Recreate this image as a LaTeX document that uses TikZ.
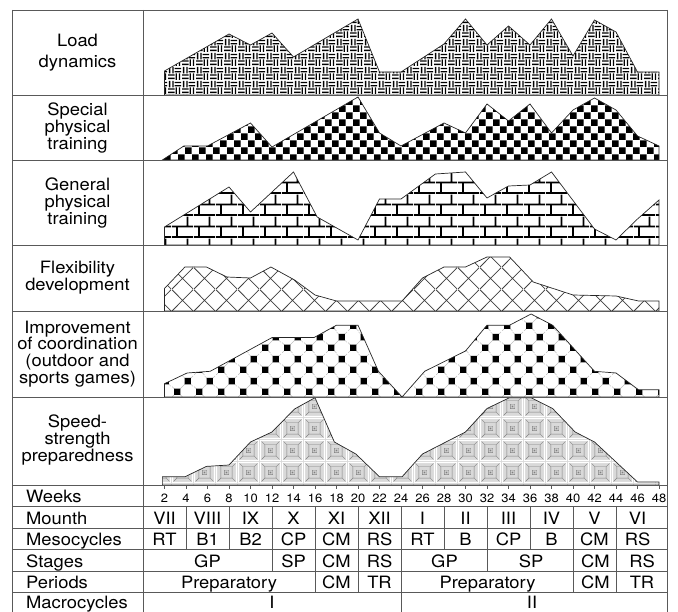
\documentclass[tikz,border=0pt]{standalone}
\usepackage{fontspec}
\setmainfont{TeX Gyre Heros}[FakeStretch=1.08]
\usetikzlibrary{patterns.meta}

\tikzdeclarepattern{
  name=weave,
  tile size={(14pt,14pt)},
  bounding box={(0pt,0pt) and (14pt,14pt)},
  code={
    \draw[line width=1.4pt]
      (0pt,1.75pt) -- (7pt,1.75pt) (0pt,5.25pt) -- (7pt,5.25pt)
      (8.75pt,0pt) -- (8.75pt,7pt) (12.25pt,0pt) -- (12.25pt,7pt)
      (1.75pt,7pt) -- (1.75pt,14pt) (5.25pt,7pt) -- (5.25pt,14pt)
      (7pt,8.75pt) -- (14pt,8.75pt) (7pt,12.25pt) -- (14pt,12.25pt);
  }
}
\tikzdeclarepattern{
  name=checker,
  tile size={(14.34pt,14.34pt)},
  bounding box={(0pt,0pt) and (14.34pt,14.34pt)},
  code={
    \fill (0.2pt,0.2pt) rectangle (6.97pt,6.97pt);
    \fill (7.37pt,7.37pt) rectangle (14.14pt,14.14pt);
  }
}
\tikzdeclarepattern{
  name=brickwall,
  tile size={(21.5pt,22pt)},
  bounding box={(0pt,0pt) and (21.5pt,22pt)},
  code={
    \draw[line width=1.8pt]
      (0pt,1pt) -- (21.5pt,1pt) (0pt,12pt) -- (21.5pt,12pt)
      (5pt,1pt) -- (5pt,12pt) (15.75pt,12pt) -- (15.75pt,22pt);
  }
}
\tikzdeclarepattern{
  name=diamonds,
  tile size={(21.5pt,21.5pt)},
  bounding box={(0pt,0pt) and (21.5pt,21.5pt)},
  code={
    \draw[line width=0.8pt]
      (0pt,0pt) -- (21.5pt,21.5pt) (0pt,21.5pt) -- (21.5pt,0pt);
  }
}
\tikzdeclarepattern{
  name=dotmesh,
  tile size={(21.5pt,21.5pt)},
  bounding box={(0pt,0pt) and (21.5pt,21.5pt)},
  code={
    \draw[line width=0.5pt]
      (0pt,0pt) -- (21.5pt,21.5pt) (0pt,10.75pt) -- (10.75pt,0pt)
      (10.75pt,21.5pt) -- (21.5pt,10.75pt);
  }
}
\tikzdeclarepattern{
  name=squaredots,
  tile size={(21.5pt,21.5pt)},
  bounding box={(0pt,0pt) and (21.5pt,21.5pt)},
  code={
    \fill (2.1pt,2.1pt) rectangle (8.65pt,8.65pt);
    \fill (12.85pt,12.85pt) rectangle (19.4pt,19.4pt);
  }
}
\tikzdeclarepattern{
  name=tilegap,
  tile size={(21.5pt,21.5pt)},
  bounding box={(0pt,0pt) and (21.5pt,21.5pt)},
  code={
    \draw[line width=1.2pt] (0.6pt,0.6pt) rectangle (20.9pt,20.9pt);
  }
}
\tikzdeclarepattern{
  name=pyramid,
  tile size={(21.5pt,21.5pt)},
  bounding box={(0pt,0pt) and (21.5pt,21.5pt)},
  code={
    \draw[line width=0.4pt] (5pt,5pt) rectangle (16.5pt,16.5pt)
      (8.5pt,8.5pt) rectangle (13pt,13pt)
      (1.6pt,1.6pt) -- (5pt,5pt) (19.9pt,1.6pt) -- (16.5pt,5pt)
      (1.6pt,19.9pt) -- (5pt,16.5pt) (19.9pt,19.9pt) -- (16.5pt,16.5pt);
    \fill (9.9pt,9.9pt) rectangle (11.6pt,11.6pt);
  }
}

\begin{document}
\begin{tikzpicture}[x=1pt, y=-1pt,
frame/.style={draw=black!65, line width=0.8pt},
area/.style={draw=black!85, line width=0.7pt},
rowlabel/.style={align=center,
inner sep=0pt,
font=\fontsize{17}{16.7}\selectfont},
tabhead/.style={anchor=base west, inner sep=0pt, font=\fontsize{17}{17}\selectfont},
cell/.style={anchor=base, inner sep=0pt, font=\fontsize{17}{17}\selectfont},
wk/.style={anchor=base, inner sep=0pt, font=\fontsize{12}{12}\selectfont}
]
\useasboundingbox (0,0) rectangle (678,612);

% curves, one unit of x = one week
\begin{scope}[xshift=143pt, x=10.75pt]
\draw[area, pattern=weave] (2,95) -- (2,71) -- (8,34) -- (10,45) -- (12,33) -- (14,57) -- (20,19) -- (22,72) -- (24,72) -- (28,44) -- (30,19) -- (32,45) -- (34,26) -- (36,45) -- (38,19) -- (40,56) -- (42,20) -- (44,32) -- (46,72) -- (48,72) -- (48,95) -- cycle;
\draw[area, pattern=checker] (1.8,160) -- (3.8,146) -- (6,146) -- (10,123) -- (12,147) -- (20,97) -- (22,133) -- (24,146) -- (28,123) -- (30,133) -- (32,104) -- (34,121) -- (36,104) -- (38,133) -- (40,110) -- (42,98) -- (44,110) -- (46,136) -- (48,146) -- (48,160) -- cycle;
\draw[area, pattern=brickwall] (2,245) -- (2,227) -- (8,187) -- (10,212) -- (14,172) -- (16.2,217) -- (20,240) -- (22,199) -- (24,199) -- (27.2,174) -- (30,172) -- (32,198) -- (34,186) -- (36,185) -- (38,172) -- (42,229) -- (44,240) -- (46,219) -- (48,200) -- (48,245) -- cycle;
\draw[area, pattern=diamonds, pattern color=black!75] (2,311) -- (2,288.5) -- (3.9,267) -- (5.9,267) -- (7.8,277) -- (10,278) -- (11.9,267) -- (14.1,280) -- (16,295) -- (18,301) -- (24.1,301) -- (26,278) -- (28,267) -- (30,267) -- (32,257) -- (34.1,257) -- (36.3,282) -- (40,295) -- (44,296) -- (46.1,301) -- (48,301) -- (48,311) -- cycle;
\draw[area, preaction={pattern=dotmesh, pattern color=black!25}, pattern=squaredots] (2,397) -- (2,383.7) -- (4.1,373) -- (6.25,371.3) -- (12,337.6) -- (15.9,337.6) -- (18,325.2) -- (20,325.2) -- (21.9,371.3) -- (24.1,397) -- (26.2,371.3) -- (30,351) -- (32,325.2) -- (34.1,325.2) -- (36.1,314) -- (38.1,325.2) -- (42,371.3) -- (44,373) -- (46.1,389.8) -- (48,389.8) -- (48,397) -- cycle;
\draw[area, preaction={fill=black!15}, preaction={pattern=tilegap, pattern color=white}, pattern=pyramid, pattern color=black!50] (1.8,485) -- (1.8,476.8) -- (3.9,476.8) -- (5.9,466.4) -- (8,465) -- (10,442) -- (12,432) -- (14.1,409) -- (16,397.7) -- (17.8,442) -- (19.8,454) -- (22,476.8) -- (24.1,476.8) -- (26,454) -- (30,432) -- (32,408.5) -- (34.1,397.7) -- (36.1,397.7) -- (38.1,408.5) -- (40.2,432) -- (42,442) -- (46,482) -- (48,482) -- (48,485) -- cycle;
\end{scope}

% table lines
\foreach \y in {10,95,160,245,311,397,485,506,528,549,571,592}
  \draw[frame] (12.5,\y) -- (667,\y);
\draw[frame] (12.5,10) -- (12.5,612);
\draw[frame] (143,10) -- (143,612);
\draw[frame] (667,10) -- (667,612);
\foreach \k in {1,2,7,9}
  \draw[frame] (143+43*\k,506) -- (143+43*\k,549);
\foreach \k in {3,8}
  \draw[frame] (143+43*\k,506) -- (143+43*\k,571);
\foreach \k in {4,5,10,11}
  \draw[frame] (143+43*\k,506) -- (143+43*\k,592);
\draw[frame] (401,506) -- (401,612);

\node[rowlabel, font=\fontsize{17}{21}\selectfont] (load) at (77.5,52.5) {Load\\dynamics};
\node[rowlabel] (special) at (77.5,128) {Special\\physical\\training};
\node[rowlabel] (general) at (77.5,203) {General\\physical\\training};
\node[rowlabel] (flex) at (77.5,278) {Flexibility\\development};
\node[rowlabel] (coord) at (77.5,354) {Improvement\\of coordination\\(outdoor and\\sports games)};
\node[rowlabel] (speed) at (77.5,440) {Speed-\\strength\\preparedness};

\node[tabhead] (weeks) at (26,502) {Weeks};
\node[tabhead] (month) at (26,524) {Mounth};
\node[tabhead] (meso) at (26,545) {Mesocycles};
\node[tabhead] (stages) at (26,567) {Stages};
\node[tabhead] (periods) at (26,588) {Periods};
\node[tabhead] (macro) at (26,608) {Macrocycles};

\foreach \w in {2,4,...,48} {
  \draw[frame] (143+10.75*\w,485) -- ++(0,4);
  \node[wk] (wk\w) at (143+10.75*\w,502) {\w};
}
\foreach \m [count=\k] in {VII,VIII,IX,X,XI,XII,I,II,III,IV,V,VI}
  \node[cell] (mon\k) at (121.5+43*\k,524) {\m};
\foreach \m [count=\k] in {RT,B1,B2,CP,CM,RS,RT,B,CP,B,CM,RS}
  \node[cell] (meso\k) at (121.5+43*\k,545) {\m};
\foreach \t/\x [count=\k] in {GP/207.5,SP/293.5,CM/336.5,RS/379.5,GP/444.5,SP/531,CM/595.5,RS/642}
  \node[cell] (stage\k) at (\x,567) {\t};
\foreach \t/\x [count=\k] in {Preparatory/229,CM/336.5,TR/379.5,Preparatory/487.5,CM/595.5,TR/642}
  \node[cell] (period\k) at (\x,588) {\t};
\node[cell] (macroI) at (272,608) {I};
\node[cell] (macroII) at (532,608) {II};

\end{tikzpicture}
\end{document}
